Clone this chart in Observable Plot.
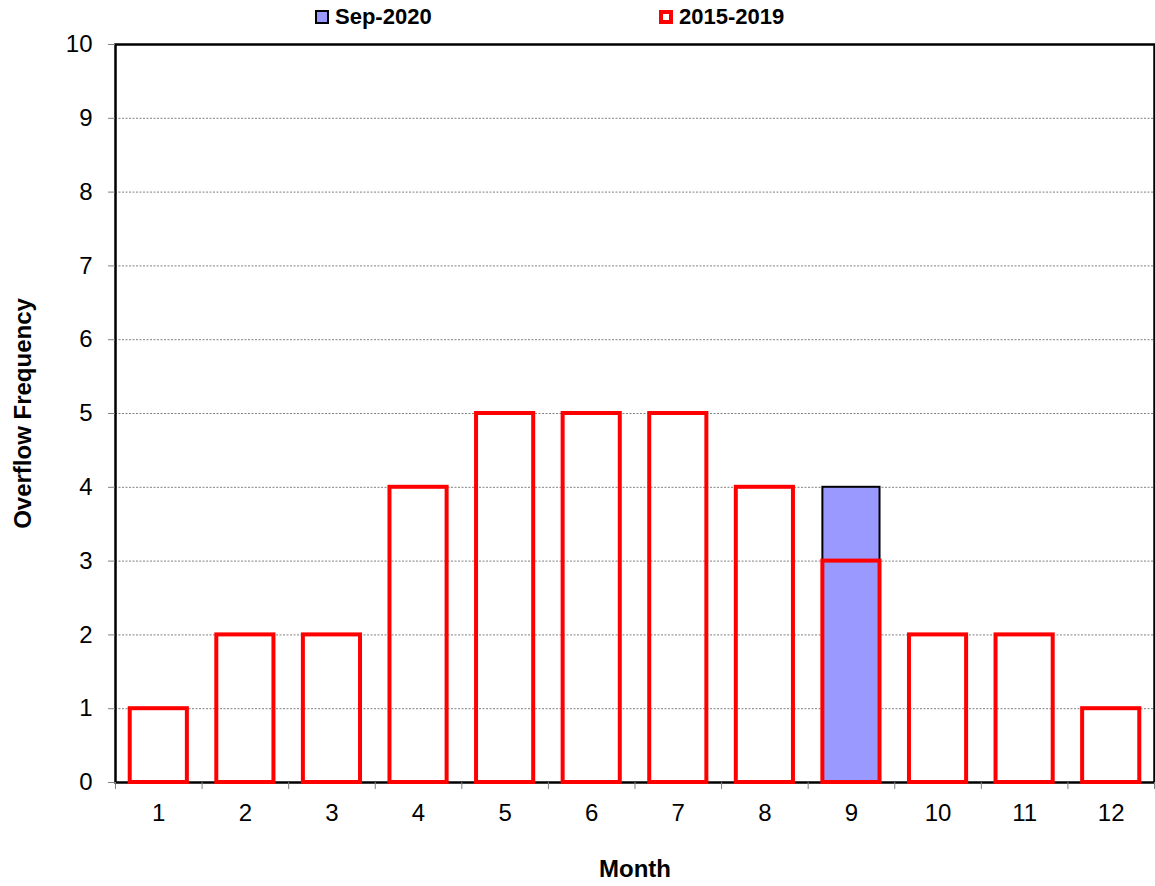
<!DOCTYPE html>
<html>
<head>
<meta charset="utf-8">
<script src="https://cdn.jsdelivr.net/npm/d3@7"></script>
<script src="https://cdn.jsdelivr.net/npm/@observablehq/plot@0.6"></script>
<style>
  html, body { margin: 0; padding: 0; background: #fff; }
  body { width: 1155px; height: 886px; position: relative; overflow: hidden; font-family: "Liberation Sans", Arial, sans-serif; }
  #chart { position: absolute; left: 0; top: 0; }
  #legend { position: absolute; top: 0; left: 0; width: 1155px; height: 34px; font-family: "Liberation Sans", Arial, sans-serif; font-weight: bold; font-size: 22px; color: #000; }
  .item { position: absolute; top: 4px; display: flex; align-items: center; height: 26px; }
  .sw { width: 14px; height: 14px; box-sizing: border-box; margin-right: 6px; }
  g[aria-label="y-axis label"] text, g[aria-label="x-axis label"] text { font-weight: bold; font-size: 24px; }
</style>
</head>
<body>
<div id="chart"></div>
<div id="legend"></div>
<script>
// ---- data ----
const months = [1, 2, 3, 4, 5, 6, 7, 8, 9, 10, 11, 12];
const freq2015_2019 = [1, 2, 2, 4, 5, 5, 5, 4, 3, 2, 2, 1];
const sep2020Month = [9];
const sep2020Value = [4];
const seriesNames = ["Sep-2020", "2015-2019"];
const yTicks = [0, 1, 2, 3, 4, 5, 6, 7, 8, 9, 10];

const histRows = months.map((m, i) => ({month: m, value: freq2015_2019[i]}));
const curRows = sep2020Month.map((m, i) => ({month: m, value: sep2020Value[i]}));
const boundaries = [0, ...months].map(m => m + 0.5);
const hw = 0.33;

const chart = Plot.plot({
  width: 1155,
  height: 886,
  marginLeft: 115,
  marginRight: 1,
  marginTop: 44,
  marginBottom: 104,
  style: {fontFamily: "'Liberation Sans', Arial, sans-serif", fontSize: "24px", color: "#000", background: "#fff"},
  x: {type: "linear", domain: [0.5, 12.5]},
  y: {domain: [0, 10]},
  marks: [
    Plot.gridY(yTicks.slice(1, -1), {stroke: "#808080", strokeOpacity: 1, strokeDasharray: "2,1.5", strokeWidth: 1}),
    Plot.frame({stroke: "#000", strokeWidth: 2.5}),
    Plot.rect(curRows, {x1: d => d.month - hw, x2: d => d.month + hw, y1: 0, y2: "value", fill: "#9999FF", stroke: "#000", strokeWidth: 2}),
    Plot.rect(histRows, {x1: d => d.month - hw, x2: d => d.month + hw, y1: 0, y2: "value", fill: "none", stroke: "#FF0000", strokeWidth: 4}),
    Plot.axisY(yTicks, {tickSize: 7, tickPadding: 16, tickFormat: d => String(d), stroke: "#808080", label: "Overflow Frequency", labelAnchor: "center", labelArrow: "none", labelOffset: 102, fontSize: 24}),
    Plot.axisX(boundaries, {tickSize: 7, tickFormat: () => "", stroke: "#808080", label: null}),
    Plot.axisX(months, {tickSize: 0, tickPadding: 21, tickFormat: d => String(d), label: "Month", labelAnchor: "center", labelArrow: "none", labelOffset: 94, fontSize: 24})
  ]
});
document.getElementById("chart").appendChild(chart);

// legend
const legend = document.getElementById("legend");
const items = [
  {name: seriesNames[0], left: 315, fill: "#9999FF", stroke: "#000", sw: 2},
  {name: seriesNames[1], left: 659, fill: "#fff", stroke: "#FF0000", sw: 4}
];
for (const it of items) {
  const d = document.createElement("div");
  d.className = "item";
  d.style.left = it.left + "px";
  const s = document.createElement("span");
  s.className = "sw";
  s.style.background = it.fill;
  s.style.border = it.sw + "px solid " + it.stroke;
  d.appendChild(s);
  const t = document.createElement("span");
  t.textContent = it.name;
  d.appendChild(t);
  legend.appendChild(d);
}
</script>
</body>
</html>
